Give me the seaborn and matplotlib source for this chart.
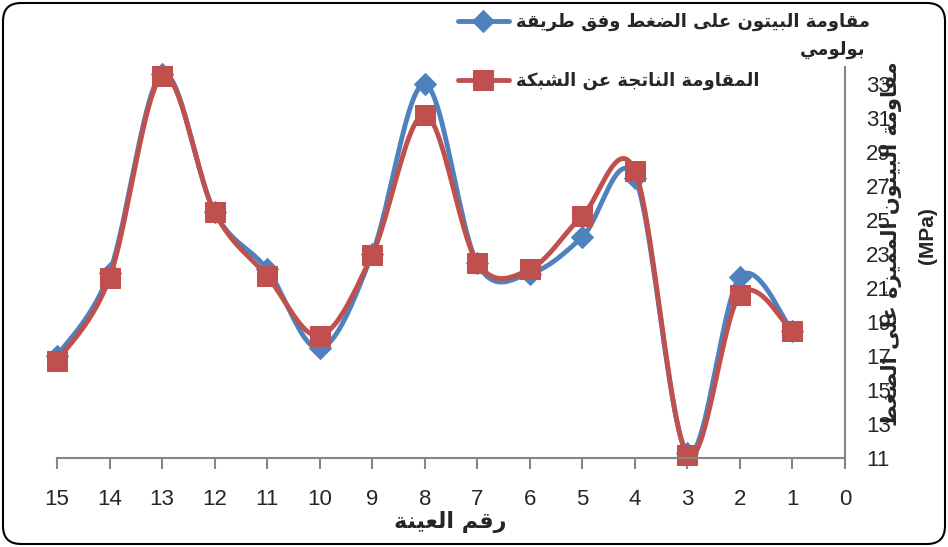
import numpy as np
import matplotlib
matplotlib.use('Agg')
import matplotlib.pyplot as plt
import seaborn as sns
from matplotlib.patches import FancyBboxPatch
from matplotlib.transforms import IdentityTransform

# sample number and compressive strength (MPa)
samples = list(range(1, 16))
bolomey = [18.45, 21.65, 11.3, 27.5, 24.0, 21.85, 22.45, 33.0, 23.0, 17.45, 22.1, 25.45, 33.6, 21.9, 17.0]
network = [18.45, 20.6, 11.2, 27.9, 25.25, 22.1, 22.5, 31.2, 22.95, 18.2, 21.7, 25.45, 33.45, 21.6, 16.7]

x_ticks = list(range(0, 16))
y_ticks = list(range(11, 34, 2))

label_bolomey_1 = 'مقاومة البيتون على الضغط وفق طريقة'
label_bolomey_2 = 'بولومي'
label_network = 'المقاومة الناتجة عن الشبكة'
x_title = 'رقم العينة'
y_title = 'مقاومة البيتون المميزة على الضغط'
y_unit = '(MPa)'

BLUE = '#4F81BD'
RED = '#C0504D'
AXIS_GREY = '#868686'

# matplotlib does no Arabic shaping, so pick presentation forms by hand
FORMS = {
    'ا': (0xFE8D, 0xFE8E, None, None),
    'ب': (0xFE8F, 0xFE90, 0xFE91, 0xFE92),
    'ة': (0xFE93, 0xFE94, None, None),
    'ت': (0xFE95, 0xFE96, 0xFE97, 0xFE98),
    'ج': (0xFE9D, 0xFE9E, 0xFE9F, 0xFEA0),
    'ر': (0xFEAD, 0xFEAE, None, None),
    'ز': (0xFEAF, 0xFEB0, None, None),
    'ش': (0xFEB5, 0xFEB6, 0xFEB7, 0xFEB8),
    'ض': (0xFEBD, 0xFEBE, 0xFEBF, 0xFEC0),
    'ط': (0xFEC1, 0xFEC2, 0xFEC3, 0xFEC4),
    'ع': (0xFEC9, 0xFECA, 0xFECB, 0xFECC),
    'غ': (0xFECD, 0xFECE, 0xFECF, 0xFED0),
    'ف': (0xFED1, 0xFED2, 0xFED3, 0xFED4),
    'ق': (0xFED5, 0xFED6, 0xFED7, 0xFED8),
    'ك': (0xFED9, 0xFEDA, 0xFEDB, 0xFEDC),
    'ل': (0xFEDD, 0xFEDE, 0xFEDF, 0xFEE0),
    'م': (0xFEE1, 0xFEE2, 0xFEE3, 0xFEE4),
    'ن': (0xFEE5, 0xFEE6, 0xFEE7, 0xFEE8),
    'و': (0xFEED, 0xFEEE, None, None),
    'ى': (0xFEEF, 0xFEF0, None, None),
    'ي': (0xFEF1, 0xFEF2, 0xFEF3, 0xFEF4),
}


def shape(text):
    out = []
    for i, c in enumerate(text):
        if c not in FORMS:
            out.append(c)
            continue
        f = FORMS[c]
        prev = text[i - 1] if i > 0 else None
        nxt = text[i + 1] if i + 1 < len(text) else None
        jp = prev in FORMS and FORMS[prev][2] is not None
        jn = nxt in FORMS and f[2] is not None
        if jp and jn:
            code = f[3]
        elif jp:
            code = f[1]
        elif jn:
            code = f[2]
        else:
            code = f[0]
        out.append(chr(code))
    return ''.join(reversed(out))


def smooth(x, y, n=24):
    # Excel-style smoothed line (Catmull-Rom as cubic Bezier)
    p = np.column_stack([x, y]).astype(float)
    p = np.vstack([p[0], p, p[-1]])
    pts = []
    t = np.linspace(0, 1, n, endpoint=False)[:, None]
    for i in range(1, len(p) - 2):
        p0, p1, p2, p3 = p[i - 1], p[i], p[i + 1], p[i + 2]
        c1 = p1 + (p2 - p0) / 6
        c2 = p2 - (p3 - p1) / 6
        seg = ((1 - t) ** 3) * p1 + 3 * ((1 - t) ** 2) * t * c1 + 3 * (1 - t) * t ** 2 * c2 + t ** 3 * p2
        pts.append(seg)
    pts.append(p[-2][None, :])
    pts = np.vstack(pts)
    return pts[:, 0], pts[:, 1], list(range(0, len(pts), n))


sns.set_style('white')
plt.rcParams['font.family'] = ['Liberation Sans', 'DejaVu Sans']

fig = plt.figure(figsize=(9.48, 5.47), dpi=100)
ax = fig.add_axes([57 / 948, 1 - 458 / 547, (845 - 57) / 948, (458 - 67) / 547])

bx, by, bmark = smooth(samples, bolomey)
rx, ry, rmark = smooth(samples, network)

sns.lineplot(x=bx, y=by, ax=ax, sort=False, estimator=None, color=BLUE, lw=3.5,
             marker='D', markersize=11, markevery=bmark, markeredgecolor=BLUE,
             clip_on=False)
sns.lineplot(x=rx, y=ry, ax=ax, sort=False, estimator=None, color=RED, lw=3.5,
             marker='s', markersize=14, markevery=rmark, markeredgecolor=RED,
             clip_on=False)

ax.set_xlim(15, 0)
ax.set_ylim(11, 34)
ax.set_xticks(x_ticks)
ax.set_yticks(y_ticks)
ax.yaxis.tick_right()
ax.tick_params(axis='x', bottom=True, direction='out', length=8, width=1.5,
               color=AXIS_GREY, pad=14, labelsize=16)
ax.tick_params(axis='y', right=True, left=False, direction='out', length=7, width=1.5,
               color=AXIS_GREY, pad=8, labelsize=16)
sns.despine(ax=ax, left=True, top=True, right=False, bottom=False)
for side in ['bottom', 'right']:
    ax.spines[side].set_color(AXIS_GREY)
    ax.spines[side].set_linewidth(1.5)
ax.set_xlabel('')
ax.set_ylabel('')

arabic = {'family': 'DejaVu Sans', 'weight': 'bold'}

leg = ax.legend(handles=ax.lines[:2], labels=[shape(label_bolomey_1), shape(label_network)],
                loc='upper left', bbox_to_anchor=(458 / 948, 1 - 13 / 547),
                bbox_transform=fig.transFigure, frameon=False,
                prop={'family': 'DejaVu Sans', 'weight': 'bold', 'size': 13},
                handlelength=2.8, handletextpad=0.4, labelspacing=2.25,
                borderpad=0, borderaxespad=0)

fig.text(865 / 948, 1 - 50 / 547, shape(label_bolomey_2), ha='right', va='center',
         size=13, **arabic)
fig.text(450 / 948, 1 - 522 / 547, shape(x_title), ha='center', va='center',
         size=16, **arabic)
fig.text(892 / 948, 1 - 244 / 547, shape(y_title), rotation=90, ha='center',
         va='center', size=15, **arabic)
fig.text(928 / 948, 1 - 236 / 547, y_unit, rotation=90, ha='center', va='center',
         size=15, weight='bold', family='Liberation Sans')

border = FancyBboxPatch((3, 3), 942, 541, boxstyle='round,pad=0,rounding_size=18',
                        transform=IdentityTransform(), fill=False, lw=1.5,
                        edgecolor='black')
fig.patches.append(border)

fig.savefig('out.png', dpi=100)
